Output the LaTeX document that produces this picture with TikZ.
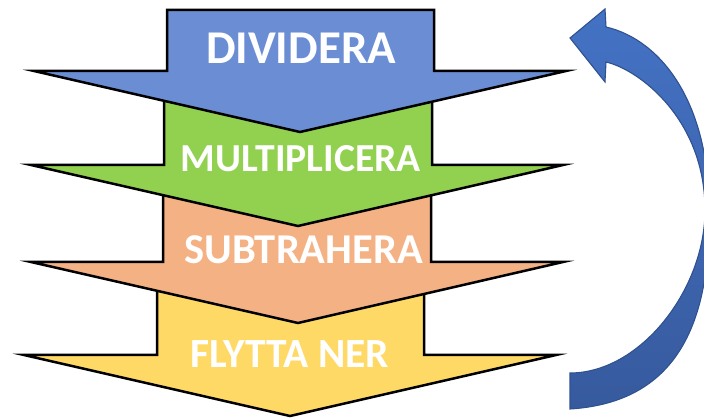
\documentclass[tikz,border=0pt]{standalone}
\usepackage{fontspec}
\setmainfont{Carlito}
\definecolor{cblue}{RGB}{106,141,211}
\definecolor{cgreen}{RGB}{146,208,80}
\definecolor{corange}{RGB}{244,177,131}
\definecolor{cyellow}{RGB}{255,217,102}
\definecolor{atop}{RGB}{68,114,196}
\definecolor{abot}{RGB}{55,90,158}
\definecolor{aedge}{RGB}{47,82,143}
\begin{document}
\begin{tikzpicture}[x=1pt,y=-1pt,
  chev/.style={draw=black,line width=2.5pt,line join=miter,miter limit=20},
  lbl/.style={text=white,font=\bfseries,anchor=base,inner sep=0pt,outer sep=0pt}]
\useasboundingbox (0,0) rectangle (704,419);
\begin{scope}
\clip (0,0) rectangle (704,419);
% chevrons, bottom first
\path[chev,fill=cyellow] (157,285) -- (424,285) -- (424,355) -- (556,355) -- (290,416) -- (24,355) -- (157,355) -- cycle;
\path[chev,fill=corange] (163,190) -- (431,190) -- (431,262) -- (563,262) -- (298,323) -- (31,262) -- (163,262) -- cycle;
\path[chev,fill=cgreen] (164,95) -- (432,95) -- (432,165) -- (563,165) -- (298,226) -- (31,165) -- (164,165) -- cycle;
\path[chev,fill=cblue] (167,10) -- (434,10) -- (434,71) -- (566,71) -- (300,132) -- (34,71) -- (167,71) -- cycle;
% curved return arrow
\path[draw=aedge,line width=1.1pt,top color=atop,bottom color=abot,line join=miter]
  (606,27) .. controls (662,40) and (712,105) .. (709,220)
           .. controls (709,340) and (665,403) .. (570,409)
  -- (570,373) .. controls (640,373) and (705,290) .. (705,210)
           .. controls (705,120) and (640,70) .. (606,62)
  -- (605,82) -- (570,38) -- (605,9) -- cycle;
\end{scope}
\node[lbl,font=\bfseries\fontsize{47}{47}\selectfont] (t1) at (301,64) {DIVIDERA};
\node[lbl,font=\bfseries\fontsize{39.7}{40}\selectfont] (t2) at (301,172) {MULTIPLICERA};
\node[lbl,font=\bfseries\fontsize{42.5}{43}\selectfont] (t3) at (303.5,264) {SUBTRAHERA};
\node[lbl,font=\bfseries\fontsize{41.5}{42}\selectfont] (t4) at (290,367) {FLYTTA NER};
\end{tikzpicture}
\end{document}
